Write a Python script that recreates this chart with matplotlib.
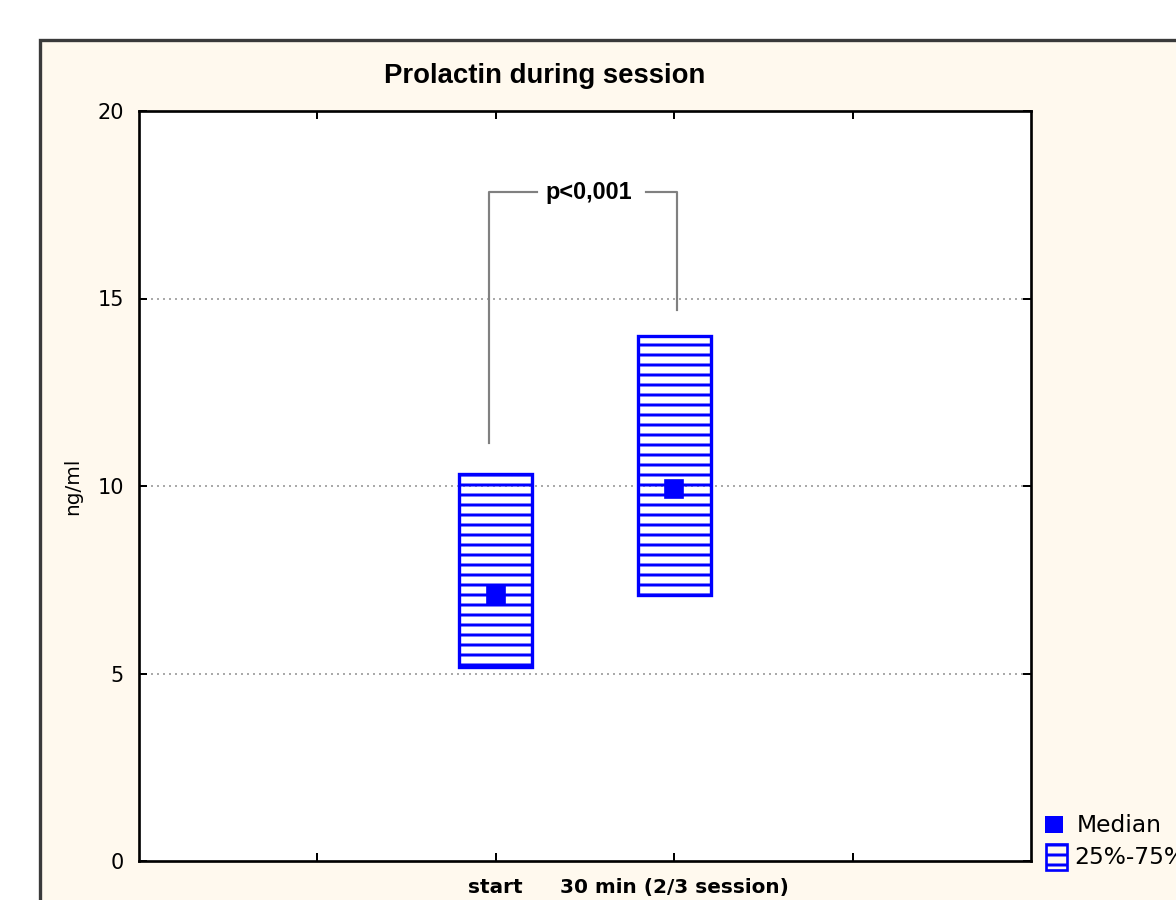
import matplotlib
matplotlib.use("Agg")
import matplotlib.pyplot as plt
from matplotlib.patches import Rectangle

# Prolactin levels (ng/ml) at two time points of the session
categories = ["start", "30 min (2/3 session)"]
positions = [2, 3]
q25 = [5.17, 7.09]
q75 = [10.32, 14.0]
median = [7.09, 9.92]

# significance bracket
bracket_x = [1.96, 3.015]
bracket_low = [11.15, 14.69]
bracket_top = 17.84
p_label = "p<0,001"

y_ticks = [0, 5, 10, 15, 20]

W, H, DPI = 1176, 900, 120
plt.rcParams["hatch.linewidth"] = 1.8

fig = plt.figure(figsize=(W / DPI, H / DPI), dpi=DPI)
fig.patch.set_facecolor("white")

# cream panel behind the plot
panel = Rectangle((40 / W, -0.1), 1.2, 1 - 40 / H + 0.1,
                  transform=fig.transFigure, facecolor="#fff9ee",
                  edgecolor="#3a3a3a", linewidth=2.0, zorder=-5)
fig.patches.append(panel)

ax = fig.add_axes([139 / W, 1 - 861 / H, 892 / W, 750 / H])
ax.set_zorder(1)
ax.set_facecolor("white")
ax.set_xlim(0, 5)
ax.set_ylim(0, 20)

for s in ax.spines.values():
    s.set_linewidth(1.6)
    s.set_color("black")

ax.set_yticks(y_ticks)
ax.set_yticklabels([str(t) for t in y_ticks], fontsize=12.5, family="DejaVu Sans")
ax.set_xticks([1, 2, 3, 4])
ax.set_xticklabels(["", categories[0], categories[1], ""],
                   fontsize=12, fontweight="bold", family="DejaVu Sans")
ax.tick_params(direction="in", length=5, width=1.2, top=True, right=True,
               pad=10)
ax.tick_params(axis="y", pad=9)

for t in [5, 10, 15]:
    ax.axhline(t, color="#aaaaaa", linestyle=(0, (1, 2)), linewidth=1.2, zorder=1)

box_w = 0.41
heights = [hi - lo for lo, hi in zip(q25, q75)]
ax.bar(positions, heights, bottom=q25, width=box_w, fill=False,
       edgecolor="#0000ff", hatch="--", linewidth=2.0, zorder=3)
ax.plot(positions, median, linestyle="none", marker="s", markersize=10.5,
        color="#0000ff", zorder=4)

# bracket with p-value
bx0, bx1 = bracket_x
ax.plot([bx0, bx0, 2.23], [bracket_low[0], bracket_top, bracket_top],
        color="#808080", linewidth=1.3, zorder=2)
ax.plot([2.84, bx1, bx1], [bracket_top, bracket_top, bracket_low[1]],
        color="#808080", linewidth=1.3, zorder=2)
ax.text(2.52, bracket_top, p_label, ha="center", va="center",
        fontsize=14, fontweight="bold",
        family=["Liberation Sans", "DejaVu Sans"], zorder=5)

ax.set_ylabel("ng/ml", fontsize=12, family="DejaVu Sans", labelpad=9)

fig.text(545 / W, 1 - 76 / H, "Prolactin during session", ha="center",
         va="center", fontsize=16.5, fontweight="bold",
         family=["Liberation Sans", "DejaVu Sans"])

# legend drawn in figure coordinates
fig.patches.append(Rectangle((1045 / W, 1 - 833 / H), 18 / W, 17 / H,
                             transform=fig.transFigure, facecolor="#0000ff",
                             edgecolor="#0000ff", linewidth=0))
fig.patches.append(Rectangle((1046 / W, 1 - 870 / H), 21 / W, 26 / H,
                             transform=fig.transFigure, fill=False,
                             edgecolor="#0000ff", hatch="--", linewidth=1.6))
fig.text(1077 / W, 1 - 825 / H, "Median", ha="left", va="center",
         fontsize=14, family="DejaVu Sans")
fig.text(1074 / W, 1 - 857 / H, "25%-75%", ha="left", va="center",
         fontsize=14, family="DejaVu Sans")

fig.savefig("out.png", dpi=DPI, facecolor=fig.get_facecolor())
